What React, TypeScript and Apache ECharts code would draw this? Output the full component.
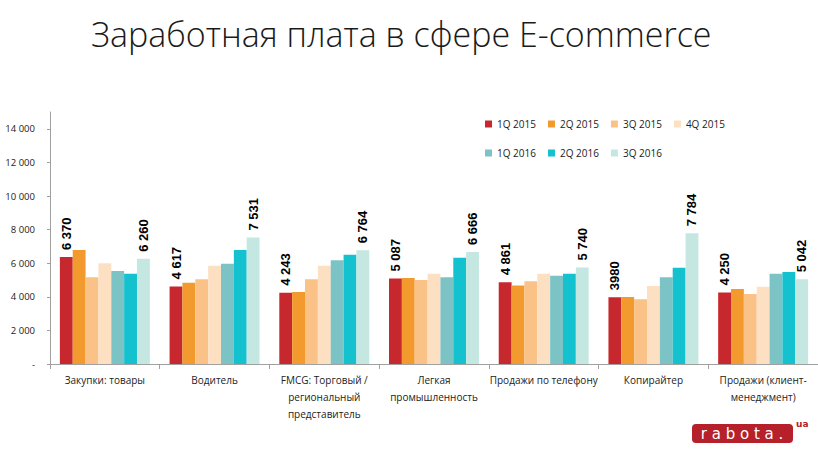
import React, { useEffect, useRef } from "react";
import * as echarts from "echarts";

const categories = [
  "Закупки: товары",
  "Водитель",
  "FMCG: Торговый /\nрегиональный\nпредставитель",
  "Легкая\nпромышленность",
  "Продажи по телефону",
  "Копирайтер",
  "Продажи (клиент-\nменеджмент)",
];

const seriesNames = ["1Q 2015", "2Q 2015", "3Q 2015", "4Q 2015", "1Q 2016", "2Q 2016", "3Q 2016"];
const colors = ["#C7282D", "#F39A2E", "#FAC287", "#FDE0C2", "#7CC3C5", "#14C1CE", "#C4E8E1"];

const q1_2015 = [6370, 4617, 4243, 5087, 4861, 3980, 4250];
const q2_2015 = [6780, 4830, 4290, 5120, 4680, 3990, 4460];
const q3_2015 = [5170, 5050, 5050, 5000, 4930, 3860, 4160];
const q4_2015 = [6000, 5850, 5850, 5370, 5370, 4640, 4600];
const q1_2016 = [5530, 5960, 6180, 5170, 5250, 5170, 5370];
const q2_2016 = [5370, 6780, 6500, 6320, 5370, 5730, 5470];
const q3_2016 = [6260, 7531, 6764, 6666, 5740, 7784, 5042];

const labels1Q2015 = ["6 370", "4 617", "4 243", "5 087", "4 861", "3980", "4 250"];
const labels3Q2016 = ["6 260", "7 531", "6 764", "6 666", "5 740", "7 784", "5 042"];

const allData = [q1_2015, q2_2015, q3_2015, q4_2015, q1_2016, q2_2016, q3_2016];

export default function App() {
  const ref = useRef<HTMLDivElement>(null);
  useEffect(() => {
    if (!ref.current) return;
    const chart = echarts.init(ref.current, null, { renderer: "svg" });
    const labelStyle = (arr: string[]) => ({
      show: true,
      position: "top",
      rotate: 90,
      align: "left",
      verticalAlign: "middle",
      distance: 7,
      fontFamily: "Liberation Sans",
      fontWeight: "bold",
      fontSize: 13,
      color: "#000",
      formatter: (p: any) => arr[p.dataIndex],
    });
    const series = allData.map((d, i) => ({
      name: seriesNames[i],
      type: "bar",
      data: d,
      barGap: "0%",
      barCategoryGap: "18%",
      itemStyle: { color: colors[i] },
      label: i === 0 ? labelStyle(labels1Q2015) : i === 6 ? labelStyle(labels3Q2016) : { show: false },
    }));
    const legendText = { fontFamily: "Open Sans", fontSize: 10, color: "#222" };
    chart.setOption({
      animation: false,
      backgroundColor: "#fff",
      title: {
        text: "Заработная плата в сфере E-commerce",
        left: 86,
        top: 12,
        textStyle: { fontFamily: "Open Sans", fontWeight: 300, fontSize: 34, color: "#1a1a1a" },
      },
      legend: [
        {
          data: seriesNames.slice(0, 4),
          left: 480,
          top: 114,
          itemWidth: 7,
          itemHeight: 7,
          itemGap: 12,
          icon: "rect",
          textStyle: legendText,
        },
        {
          data: seriesNames.slice(4),
          left: 480,
          top: 143,
          itemWidth: 7,
          itemHeight: 7,
          itemGap: 12,
          icon: "rect",
          textStyle: legendText,
        },
      ],
      grid: { left: 50, right: 0, top: 112, bottom: 94, containLabel: false },
      xAxis: {
        type: "category",
        data: categories,
        axisLine: { lineStyle: { color: "#A0A0A0" } },
        axisTick: { show: true, length: 5, lineStyle: { color: "#A0A0A0" } },
        axisLabel: {
          interval: 0,
          fontFamily: "Open Sans",
          fontSize: 10,
          color: "#222",
          lineHeight: 17,
          margin: 7,
        },
      },
      yAxis: {
        type: "value",
        min: 0,
        max: 15000,
        interval: 2000,
        splitLine: { show: false },
        axisLine: { show: true, lineStyle: { color: "#A0A0A0" } },
        axisTick: { show: true, length: 3, lineStyle: { color: "#A0A0A0" } },
        axisLabel: {
          showMaxLabel: false,
          fontFamily: "Open Sans",
          fontSize: 9.5,
          color: "#222",
          margin: 15,
          formatter: (v: number) => (v === 0 ? "-" : String(v).replace(/\B(?=(\d{3})+(?!\d))/g, " ")),
        },
      },
      graphic: [
        {
          type: "rect",
          shape: { x: 692, y: 424, width: 101, height: 19, r: 4 },
          style: { fill: "#B5202A" },
        },
        {
          type: "text",
          x: 742,
          y: 433.5,
          style: {
            text: "r a b o t a .",
            fill: "#fff",
            fontFamily: "DejaVu Sans",
            fontSize: 15,
            align: "center",
            verticalAlign: "middle",
          },
        },
        {
          type: "text",
          x: 796,
          y: 419,
          style: {
            text: "ua",
            fill: "#B5202A",
            fontFamily: "DejaVu Sans",
            fontWeight: "bold",
            fontSize: 9,
          },
        },
      ],
      series,
    });
    return () => chart.dispose();
  }, []);
  return <div ref={ref} style={{ position: "absolute", left: 0, top: 0, width: 818, height: 458 }} />;
}
